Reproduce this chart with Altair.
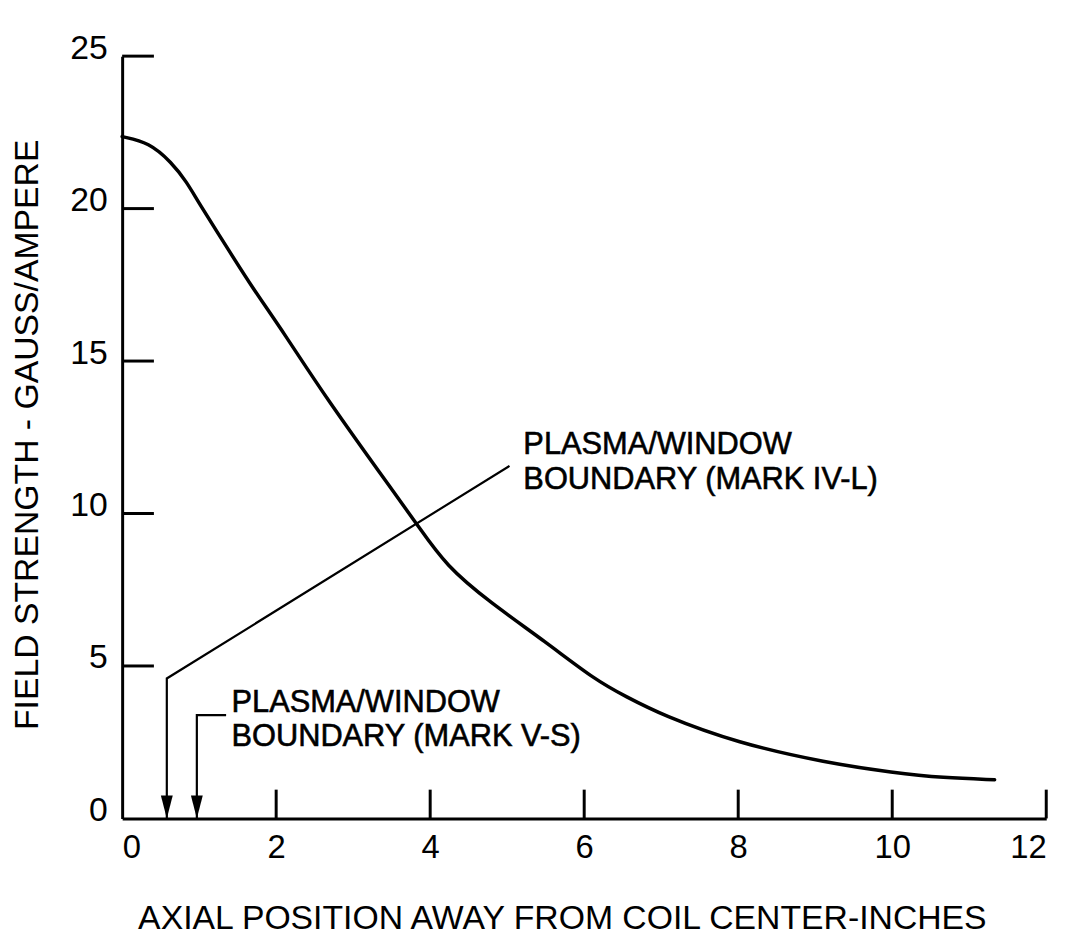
import altair as alt
import pandas as pd

# ---- data ----
curve_x = [0.0, 0.35, 0.64, 0.84, 0.99, 1.42, 1.68, 2.11, 2.63, 3.57, 3.83, 4.21, 4.77, 5.50, 6.15, 6.54, 7.01, 7.99, 9.15, 10.02, 10.66, 11.33]
curve_y = [22.36, 22.17, 21.52, 20.87, 20.21, 18.49, 17.45, 15.89, 13.85, 10.55, 9.64, 8.27, 7.10, 5.79, 4.53, 4.00, 3.39, 2.47, 1.82, 1.50, 1.33, 1.27]

x_tick_values = [2, 4, 6, 8, 10, 12]
y_tick_values = [5, 10, 15, 20, 25]
x_label_values = [0, 2, 4, 6, 8, 10, 12]
y_label_values = [0, 5, 10, 15, 20, 25]

# leader lines (Mark IV-L and Mark V-S)
leader_group = ["IV-L", "IV-L", "IV-L", "V-S", "V-S", "V-S"]
leader_order = [0, 1, 2, 0, 1, 2]
leader_x = [0.58, 0.58, 5.03, 0.97, 0.97, 1.35]
leader_y = [0.0, 4.59, 11.56, 0.0, 3.39, 3.39]

arrow_x = [0.58, 0.97]
arrow_y = [0.0, 0.0]

label_text = ["PLASMA/WINDOW", "BOUNDARY (MARK IV-L)", "PLASMA/WINDOW", "BOUNDARY (MARK V-S)"]
label_x = [5.21, 5.21, 1.42, 1.42]
label_y = [11.95, 10.81, 3.48, 2.38]

X_TITLE = "AXIAL POSITION AWAY FROM COIL CENTER-INCHES"
Y_TITLE = "FIELD STRENGTH - GAUSS/AMPERE"

FONT = "Liberation Sans"
W, H = 931, 768

xs = alt.Scale(domain=[0, 12], nice=False, zero=False)
ys = alt.Scale(domain=[0, 25], nice=False, zero=False)

x_axis = alt.Axis(
    values=x_label_values, ticks=False, tickSize=0, grid=False,
    domainColor="black", domainWidth=3,
    labelFont=FONT, labelFontSize=33, labelColor="black", labelPadding=13,
    labelBaseline="top",
    titleFont=FONT, titleFontSize=34, titleFontWeight="normal",
    titleColor="black", titleX=443, titleY=111, titleBaseline="alphabetic",
    titleAlign="center",
)
y_axis = alt.Axis(
    values=y_label_values, ticks=False, tickSize=0, grid=False,
    domainColor="black", domainWidth=3,
    labelFont=FONT, labelFontSize=34, labelColor="black", labelPadding=15,
    labelOffset=-8, labelBaseline="middle",
    titleFont=FONT, titleFontSize=34, titleFontWeight="normal",
    titleColor="black", titleAngle=270, titleX=-95, titleY=381,
    titleBaseline="middle", titleAlign="center",
)


def X():
    return alt.X("x:Q", scale=xs, axis=x_axis, title=X_TITLE)


def Y():
    return alt.Y("y:Q", scale=ys, axis=y_axis, title=Y_TITLE)


curve_df = pd.DataFrame({"x": curve_x, "y": curve_y})
leader_df = pd.DataFrame({"g": leader_group, "o": leader_order, "x": leader_x, "y": leader_y})
arrow_df = pd.DataFrame({"x": arrow_x, "y": arrow_y})
label_df = pd.DataFrame({"t": label_text, "x": label_x, "y": label_y})
xt_df = pd.DataFrame({"x": x_tick_values})
yt_df = pd.DataFrame({"y": y_tick_values})

curve = alt.Chart(curve_df).mark_line(
    interpolate="basis", color="black", strokeWidth=3.5, strokeCap="round"
).encode(x=X(), y=Y())

leaders = alt.Chart(leader_df).mark_line(color="black", strokeWidth=2.2).encode(
    x=X(), y=Y(), detail="g:N", order="o:Q",
)

arrows = alt.Chart(arrow_df).mark_point(
    shape="M-0.26,-1L0.26,-1L0,0Z", filled=True, color="black", opacity=1, size=2116
).encode(x=X(), y=Y())

xticks = alt.Chart(xt_df).mark_rule(color="black", strokeWidth=3).encode(
    x=X(), y=alt.value(H), y2=alt.value(H - 29),
)

yticks = alt.Chart(yt_df).mark_rule(color="black", strokeWidth=3).encode(
    y=Y(), x=alt.value(0), x2=alt.value(32),
)

labels = alt.Chart(label_df).mark_text(
    align="left", baseline="alphabetic", font=FONT, fontSize=31, color="black",
    stroke="black", strokeWidth=0.6,
).encode(x=X(), y=Y(), text="t:N")

chart = alt.layer(curve, leaders, arrows, xticks, yticks, labels).properties(
    width=W, height=H,
    autosize=alt.AutoSizeParams(type="none"),
    padding={"left": 115, "top": 45, "right": 33, "bottom": 121},
    background="white",
).configure_view(stroke=None)

chart.save("out.html", embed_options={"renderer": "svg", "actions": False})
